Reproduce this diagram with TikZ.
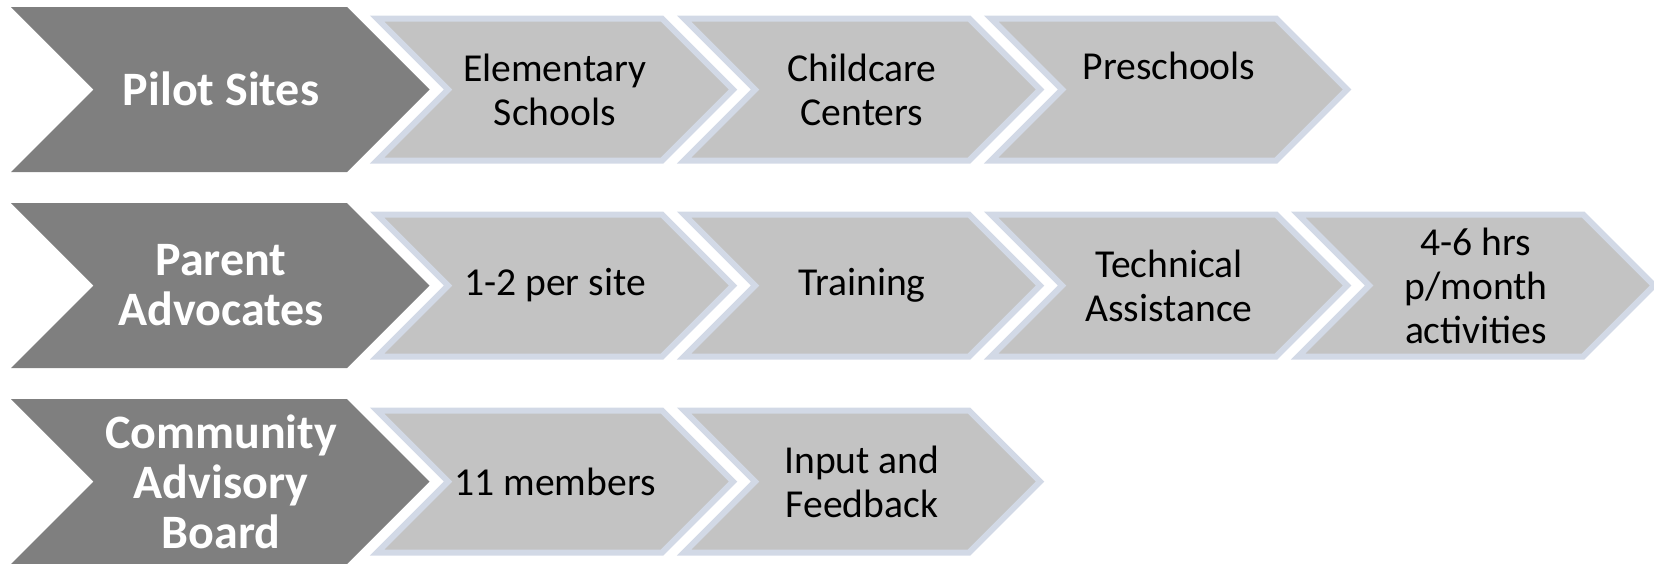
\documentclass[tikz,border=0pt]{standalone}
\usepackage{fontspec}
\setmainfont{Carlito}
\definecolor{headgray}{HTML}{7F7F7F}
\definecolor{partgray}{HTML}{C3C3C3}
\definecolor{partedge}{HTML}{D2D9E6}

% chevron: style, left x, centre y, top length, half height
\newcommand{\chevshape}[5]{%
  \draw[#1] (#2,#3-#5) -- ++(#4,0) -- ++(#5,#5) -- ++(-#5,#5)
    -- ++(-#4,0) -- ++(#5,-#5) -- cycle;}

\begin{document}
\begin{tikzpicture}[x=0.5pt, y=-0.5pt,
    head/.style={fill=headgray, draw=none},
    part/.style={fill=partgray, draw=partedge, line width=3pt},
    headtext/.style={text=white, align=center, inner sep=0pt,
      font=\fontsize{24}{25}\selectfont\bfseries},
    parttext/.style={text=black, align=center, inner sep=0pt,
      font=\fontsize{19.8}{22}\selectfont}]
        \useasboundingbox (0,0) rectangle (1654,563);

        % row 1
        \chevshape{head}{11}{89.5}{336}{82.5}
        \chevshape{part}{377}{89.5}{285}{71}
        \chevshape{part}{684}{89.5}{285}{71}
        \chevshape{part}{991}{89.5}{285}{71}
        \node[headtext] (pilot) at (221,88.5) {Pilot Sites};
        \node[parttext] (elem) at (555,89.5) {Elementary\\Schools};
        \node[parttext] (child) at (862,89.5) {Childcare\\Centers};
        \node[parttext, anchor=base] (pre) at (1169,79) {Preschools};

        % row 2
        \chevshape{head}{11}{285.5}{336}{82.5}
        \chevshape{part}{377}{285.5}{285}{71}
        \chevshape{part}{684}{285.5}{285}{71}
        \chevshape{part}{991}{285.5}{285}{71}
        \chevshape{part}{1298}{285.5}{285}{71}
        \node[headtext] (parent) at (221,285.5) {Parent\\Advocates};
        \node[parttext] (persite) at (555,285.5) {1-2 per site};
        \node[parttext] (train) at (862,285.5) {Training};
        \node[parttext] (tech) at (1169,285.5) {Technical\\Assistance};
        \node[parttext] (hours) at (1476,285.5) {4-6 hrs\\p/month\\activities};

        % row 3
        \chevshape{head}{11}{481.5}{336}{82.5}
        \chevshape{part}{377}{481.5}{285}{71}
        \chevshape{part}{684}{481.5}{285}{71}
        \node[headtext] (board) at (221,481.5) {Community\\Advisory\\Board};
        \node[parttext] (members) at (555,481.5) {11 members};
        \node[parttext] (input) at (862,481.5) {Input and\\Feedback};
\end{tikzpicture}
\end{document}
